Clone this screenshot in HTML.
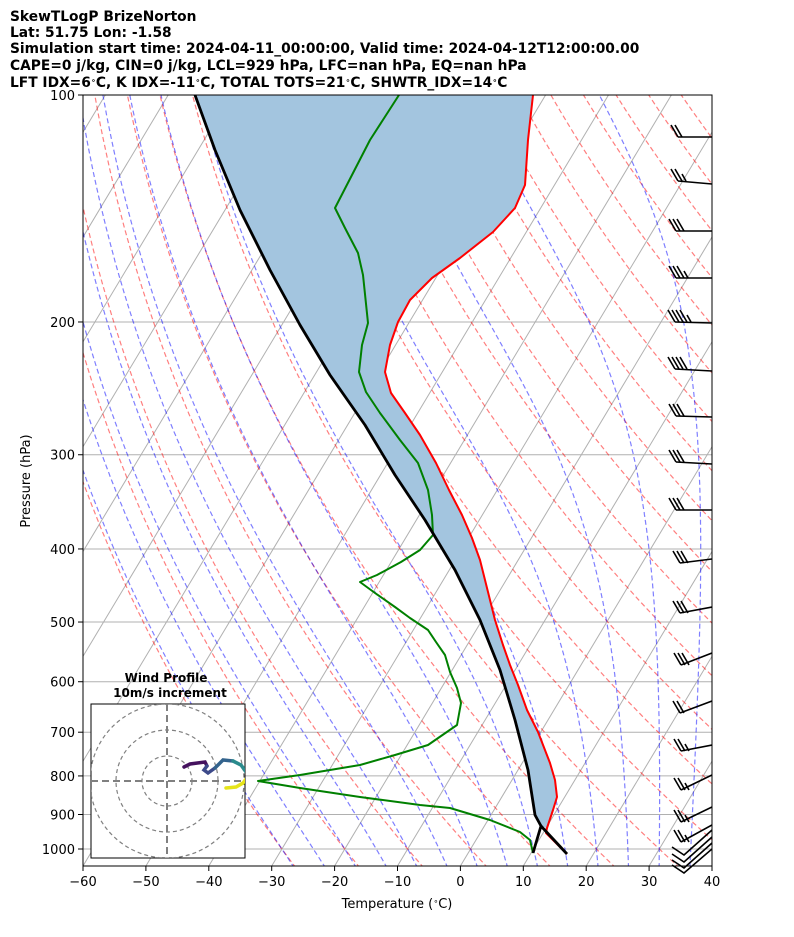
<!DOCTYPE html>
<html><head><meta charset="utf-8"><style>
body{margin:0;background:#fff;}
svg{display:block;font-family:"DejaVu Sans","Liberation Sans",sans-serif;}
</style></head><body>
<svg id="s" width="794" height="937" viewBox="0 0 794 937" xmlns="http://www.w3.org/2000/svg">
<defs><clipPath id="c"><rect x="83" y="95" width="629" height="771"/></clipPath>
<clipPath id="cb"><rect x="600" y="90" width="112" height="800"/></clipPath>
<clipPath id="ci"><rect x="91" y="704" width="154" height="154"/></clipPath></defs>
<g font-weight="bold" font-size="13.8" fill="#000">
<text x="10" y="21">SkewTLogP BrizeNorton</text>
<text x="10" y="37">Lat: 51.75   Lon: -1.58</text>
<text x="10" y="53">Simulation start time: 2024-04-11_00:00:00, Valid time: 2024-04-12T12:00:00.00</text>
<text x="10" y="70">CAPE=0 j/kg, CIN=0 j/kg, LCL=929 hPa, LFC=nan hPa, EQ=nan hPa</text>
<text x="10" y="87">LFT IDX</text>
</g>
<g id="bg" clip-path="url(#c)"></g>
<g id="fg" clip-path="url(#c)"></g>
<g id="barbs" clip-path="url(#cb)" stroke="#000" stroke-width="1.6" fill="none"></g>
<rect x="83" y="95" width="629" height="771" fill="none" stroke="#000" stroke-width="1"/>
<g id="ax" font-size="13" fill="#000"></g>
<text x="397" y="908" font-size="13" text-anchor="middle">Temperature (<tspan baseline-shift="super" font-size="8">∘</tspan>C)</text>
<text transform="translate(30,481) rotate(-90)" font-size="13" text-anchor="middle">Pressure (hPa)</text>
<rect x="91" y="704" width="154" height="154" fill="#fff" stroke="#000" stroke-width="1"/>
<g clip-path="url(#ci)" fill="none" stroke="#808080" stroke-width="1.2" stroke-dasharray="4,3">
<circle cx="167" cy="781" r="25"/><circle cx="167" cy="781" r="51"/><circle cx="167" cy="781" r="77"/>
<line x1="91" y1="781" x2="245" y2="781" stroke-width="2" stroke-dasharray="7,4"/>
<line x1="167" y1="704" x2="167" y2="858" stroke-width="2" stroke-dasharray="7,4"/>
</g>
<g fill="none" stroke-width="3.5" stroke-linecap="round" clip-path="url(#ci)">
<polyline points="184,767 190,764 205,762 207,766" stroke="#45125e"/>
<polyline points="207,766 204,770 208,773 215,768" stroke="#3d4a8a"/>
<polyline points="215,768 223,760 233,761" stroke="#33638d"/>
<polyline points="233,761 241,765 246,772" stroke="#2a8a8c"/>
<polyline points="226,788 236,787 243,783 246,779" stroke="#e6e419"/>
</g>
<text x="166" y="682" font-size="12" font-weight="bold" text-anchor="middle">Wind Profile</text>
<text x="170" y="697" font-size="12" font-weight="bold" text-anchor="middle">10m/s increment</text>
</svg>
<script>
(function(){
var NS="http://www.w3.org/2000/svg";
function el(p,t,a,txt){var e=document.createElementNS(NS,t);for(var k in a)e.setAttribute(k,a[k]);if(txt!==undefined)e.textContent=txt;p.appendChild(e);return e;}
var SK=0.6;
function Y(p){return 95+754*Math.log10(p/100);}
function X(T,p){return 83+(T+60)*6.29+SK*(866-Y(p));}
var bg=document.getElementById('bg'),fg=document.getElementById('fg'),ax=document.getElementById('ax');
var t5=document.querySelectorAll('text')[4];
t5.textContent="";
var parts=["LFT IDX=6","C, K IDX=-11","C, TOTAL TOTS=21","C, SHWTR_IDX=14","C"];
parts.forEach(function(s,i){el(t5,'tspan',{},s);if(i<4){el(t5,'tspan',{'baseline-shift':'super','font-size':'8'},'∘');}});
for(var p=100;p<=1000;p+=100){var y=Y(p);el(bg,'line',{x1:83,x2:712,y1:y,y2:y,stroke:'#b0b0b0','stroke-width':1});}
for(var T=-200;T<=40;T+=10){var xb=83+(T+60)*6.29;el(bg,'line',{x1:xb,y1:866,x2:xb+SK*771,y2:95,stroke:'#b0b0b0','stroke-width':1});}
var ps=[];for(var p=1060;p>=95;p-=5)ps.push(p);
for(var t0=-30;t0<=200;t0+=10){var pts=ps.map(function(p){var T=(t0+273.15)*Math.pow(p/1000,0.2857)-273.15;return X(T,p).toFixed(1)+','+Y(p).toFixed(1);});
el(bg,'polyline',{points:pts.join(' '),fill:'none',stroke:'#ff0000','stroke-opacity':0.5,'stroke-width':1.2,'stroke-dasharray':'5,3'});}
function es(Tc){return 6.112*Math.exp(17.67*Tc/(Tc+243.5));}
function grad(T,p){var e=es(T-273.15);var r=0.622*e/(p-e);return (287*T+2.5e6*r)/(1005+2.5e6*2.5e6*r*0.622/(287*T*T))/p;}
function moist(t0){var res=[];var T=t0+273.15,pp=1000,down=[];
 while(pp<1060){T+=grad(T,pp)*2;pp+=2;down.push([pp,T]);}
 down.reverse().forEach(function(a){res.push(a);});
 T=t0+273.15;var p=1000;res.push([p,T]);
 while(p>100){T-=grad(T,p)*2;p-=2;res.push([p,T]);}
 return res;}
for(var t0=-30;t0<=45;t0+=5){var a=moist(t0);var pts=a.map(function(q){return X(q[1]-273.15,q[0]).toFixed(1)+','+Y(q[0]).toFixed(1);});
el(bg,'polyline',{points:pts.join(' '),fill:'none',stroke:'#0000ff','stroke-opacity':0.5,'stroke-width':1.2,'stroke-dasharray':'5,3'});}
var red=[[533,95],[528,140],[525,185],[515,208],[493,232],[460,258],[432,278],[410,300],[398,322],[390,345],[385,372],[391,393],[405,413],[420,435],[436,463],[449,490],[462,515],[472,538],[480,560],[485,580],[490,600],[495,620],[503,645],[510,665],[518,685],[527,710],[538,732],[550,763],[555,780],[557,797],[553,810],[547,828],[546,833],[567,854]];
var blk=[[195,95],[215,150],[240,210],[270,270],[300,325],[330,375],[365,425],[395,475],[425,520],[455,570],[480,620],[500,670],[515,720],[528,770],[535,815],[541,826]];
var fillpts=blk.concat(red.slice(0,-2).reverse());
el(fg,'polygon',{points:fillpts.map(function(q){return q.join(',');}).join(' '),fill:'#a3c5df'});
var grn=[[399,95],[370,140],[335,208],[345,228],[358,253],[363,275],[368,323],[362,345],[359,372],[366,392],[380,413],[400,440],[418,463],[428,490],[432,515],[433,535],[420,550],[401,562],[377,575],[360,582],[375,593],[395,607],[410,618],[428,630],[436,642],[445,655],[450,672],[457,688],[461,703],[457,725],[428,745],[395,755],[360,765],[300,775],[258,781],[300,788],[360,797],[420,805],[450,808],[490,820],[520,832],[530,840],[533,853]];
function pl(d,c,w){el(fg,'polyline',{points:d.map(function(q){return q.join(',');}).join(' '),fill:'none',stroke:c,'stroke-width':w,'stroke-linejoin':'round'});}
pl(red,'#ff0000',2);pl(grn,'#008000',2);pl(blk,'#000',2.8);
pl([[533,853],[541,826],[567,854]],'#000',2.8);
for(var T=-60;T<=40;T+=10){var x=83+(T+60)*6.29;el(ax,'line',{x1:x,x2:x,y1:866,y2:871,stroke:'#000'});el(ax,'text',{x:x,y:886,'text-anchor':'middle'},(T<0?'\u2212'+(-T):T));}
for(var p=100;p<=1000;p+=100){var y=Y(p);el(ax,'line',{x1:78,x2:83,y1:y,y2:y,stroke:'#000'});el(ax,'text',{x:75,y:y+5,'text-anchor':'end'},p);}
var bb=document.getElementById('barbs');
var B=[[678,137,137,2],[678,181,184,2.5],[676,231,231,3],[676,278,278,3.5],[675,322,323,4.5],[675,369,371,4],[676,416,417,3],[676,462,464,3],[676,510,510,3],[680,563,559,3],[680,613,607,3],[681,665,653,3],[680,713,701,2],[681,751,745,2.5],[681,790,775,2.5],[681,822,807,2.5],[681,842,825,2.5]];
B.forEach(function(b){var x0=b[0],y0=b[1];el(bb,'line',{x1:x0,y1:y0,x2:712,y2:b[2]});
 var n=Math.floor(b[3]);for(var i=0;i<n;i++){el(bb,'line',{x1:x0+i*4,y1:y0,x2:x0-7+i*4,y2:y0-12});}
 if(b[3]%1){el(bb,'line',{x1:x0+n*4,y1:y0,x2:x0+n*4-4,y2:y0-7});}});
[[853,838],[860,845],[866,851],[871,857]].forEach(function(c,i){
 el(bb,'polyline',{points:(672)+','+(c[0]-6)+' 684,'+(c[0]+2)+' 712,'+(c[1]-8)});});
})();
</script>
</body></html>
